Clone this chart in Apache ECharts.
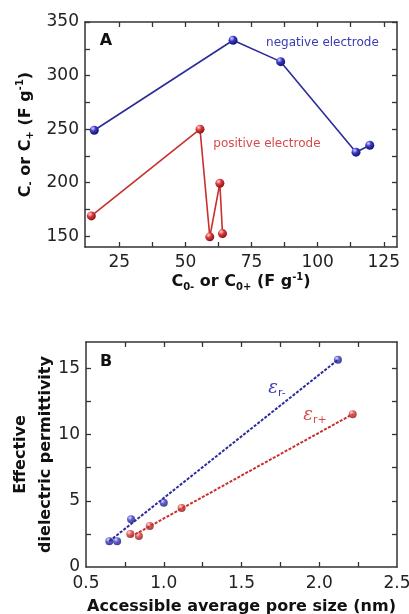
<!DOCTYPE html>
<html>
<head>
<meta charset="utf-8">
<script src="https://cdn.jsdelivr.net/npm/echarts@6/dist/echarts.min.js"></script>
<style>
  html, body { margin: 0; padding: 0; background: #fff; }
  #chart { width: 409px; height: 614px; }
</style>
</head>
<body>
<div id="chart"></div>
<script>
// panel A: capacitance vs C0
var negX = [15.5, 68, 86, 114.5, 119.7];
var negY = [249, 333, 313, 228.5, 235];
var posX = [14.4, 55.5, 59.2, 63, 64];
var posY = [169, 250, 149.5, 199.5, 152.5];
var aXTicks = [25, 37.5, 50, 62.5, 75, 87.5, 100, 112.5, 125];
var aXLabels = [25, 50, 75, 100, 125];
var aYTicks = [150, 175, 200, 225, 250, 275, 300, 325, 350];
var aYLabels = [150, 200, 250, 300, 350];

// panel B: permittivity vs pore size
var bNegX = [0.65, 0.70, 0.79, 1.0, 2.12];
var bNegY = [1.95, 1.95, 3.6, 4.85, 15.65];
var bPosX = [0.785, 0.84, 0.91, 1.115, 2.215];
var bPosY = [2.5, 2.35, 3.1, 4.45, 11.55];
var fitNegX = [0.65, 2.12];
var fitNegY = [1.95, 15.65];
var fitPosX = [0.79, 2.215];
var fitPosY = [2.3, 11.55];
var bXTicks = [0.75, 1.0, 1.25, 1.5, 1.75, 2.0, 2.25];
var bXLabels = [0.5, 1.0, 1.5, 2.0, 2.5];
var bYTicks = [2.5, 5, 7.5, 10, 12.5, 15];
var bYLabels = [0, 5, 10, 15];

var BLUE = '#2a2c9c';
var RED = '#c8302e';
var FONT = 'DejaVu Sans';

function zip(xs, ys) {
  return xs.map(function (x, i) { return [x, ys[i]]; });
}

function ball(dark, mid, light) {
  return {
    type: 'radial', x: 0.35, y: 0.3, r: 0.7,
    colorStops: [
      { offset: 0, color: light },
      { offset: 0.45, color: mid },
      { offset: 1, color: dark }
    ]
  };
}
var blueBall = ball('#15156e', '#3838c8', '#d8d8ff');
var redBall = ball('#8e1414', '#d83a3a', '#ffd8d8');

var rich = {
  b: { fontSize: 16, fontWeight: 'bold', fontFamily: FONT, color: '#111' },
  s: { fontSize: 10, fontWeight: 'bold', fontFamily: FONT, color: '#111', padding: [10, 0, 0, 0] },
  p: { fontSize: 10, fontWeight: 'bold', fontFamily: FONT, color: '#111', padding: [0, 0, 10, 0] }
};

function axis(pos, grid, min, max, ticks, labels, show, name, extra) {
  var a = {
    type: 'value', gridIndex: grid, position: pos, min: min, max: max,
    axisLine: { show: true, onZero: false, lineStyle: { color: '#333', width: 1.5 } },
    axisTick: { show: true, inside: true, length: 5, customValues: ticks,
      lineStyle: { color: '#333', width: 1.3 } },
    axisLabel: { show: show, customValues: labels, color: '#222', fontSize: 17, fontFamily: FONT,
      margin: 6 },
    splitLine: { show: false }
  };
  if (name) {
    a.name = name;
    a.nameLocation = 'middle';
  }
  if (extra) Object.assign(a, extra);
  return a;
}

var chart = echarts.init(document.getElementById('chart'), null, { renderer: 'canvas' });

var option = {
  animation: false,
  backgroundColor: '#fff',
  grid: [
    { left: 85, right: 12, top: 22, height: 225, containLabel: false, outerBoundsMode: 'none' },
    { left: 86, right: 12, top: 342, height: 225, containLabel: false, outerBoundsMode: 'none' }
  ],
  xAxis: [
    axis('bottom', 0, 12, 130, aXTicks, aXLabels, true,
      '{b|C}{s|0-}{b| or C}{s|0+}{b| (F g}{p|-1}{b|)}',
      { nameGap: 25, nameTextStyle: { rich: rich },
        axisLabel: { show: true, customValues: aXLabels, color: '#222', fontSize: 17, fontFamily: FONT, margin: 7 } }),
    axis('top', 0, 12, 130, aXTicks, aXLabels, false),
    axis('bottom', 1, 0.5, 2.5, bXTicks, bXLabels, true,
      'Accessible average pore size (nm)',
      { nameGap: 32, nameTextStyle: { fontSize: 16, fontWeight: 'bold', fontFamily: FONT, color: '#111' },
        axisLabel: { show: true, customValues: bXLabels, color: '#222', fontSize: 17, fontFamily: FONT, margin: 8,
          formatter: function (v) { return v.toFixed(1); } } }),
    axis('top', 1, 0.5, 2.5, bXTicks, bXLabels, false)
  ],
  yAxis: [
    axis('left', 0, 140, 350, aYTicks, aYLabels, true,
      '{b|C}{s|-}{b| or C}{s|+}{b| (F g}{p|-1}{b|)}',
      { nameGap: 48, nameTextStyle: { rich: rich } }),
    axis('right', 0, 140, 350, aYTicks, aYLabels, false),
    axis('left', 1, 0, 17, bYTicks, bYLabels, true,
      'Effective\ndielectric permittivity',
      { nameGap: 28, nameMoveOverlap: false,
        nameTextStyle: { fontSize: 16, fontWeight: 'bold', fontFamily: FONT, color: '#111', lineHeight: 25 } }),
    axis('right', 1, 0, 17, bYTicks, bYLabels, false)
  ],
  series: [
    { type: 'line', xAxisIndex: 0, yAxisIndex: 0, data: zip(negX, negY),
      symbol: 'circle', symbolSize: 9, showAllSymbol: true,
      lineStyle: { color: BLUE, width: 1.6 }, itemStyle: { color: blueBall } },
    { type: 'line', xAxisIndex: 0, yAxisIndex: 0, data: zip(posX, posY),
      symbol: 'circle', symbolSize: 9, showAllSymbol: true,
      lineStyle: { color: RED, width: 1.6 }, itemStyle: { color: redBall } },
    { type: 'line', xAxisIndex: 2, yAxisIndex: 2, data: zip(fitNegX, fitNegY),
      symbol: 'none', lineStyle: { color: BLUE, width: 2, type: [3, 1.5] } },
    { type: 'line', xAxisIndex: 2, yAxisIndex: 2, data: zip(fitPosX, fitPosY),
      symbol: 'none', lineStyle: { color: RED, width: 2, type: [3, 1.5] } },
    { type: 'scatter', xAxisIndex: 2, yAxisIndex: 2, data: zip(bNegX, bNegY),
      symbolSize: 8, itemStyle: { color: blueBall } },
    { type: 'scatter', xAxisIndex: 2, yAxisIndex: 2, data: zip(bPosX, bPosY),
      symbolSize: 8, itemStyle: { color: redBall } }
  ]
};
chart.setOption(option);

// annotations placed in data coordinates
var notesA = [
  { at: [19.9, 332.3], text: 'A', style: { fontSize: 16, fontWeight: 'bold', fill: '#111' } },
  { at: [101.8, 330.4], text: 'negative electrode', style: { fontSize: 12, fill: '#3a3ab4' } },
  { at: [80.8, 236.1], text: 'positive electrode', style: { fontSize: 12, fill: '#d84a4a' } }
];
var notesB = [
  { at: [0.629, 15.49], text: 'B', style: { fontSize: 16, fontWeight: 'bold', fill: '#111' } },
  { at: [1.728, 13.52], text: '{e|ε}{s|r-}', color: '#3a3ab4' },
  { at: [1.973, 11.48], text: '{e|ε}{s|r+}', color: '#d84a4a' }
];

function toGraphic(n, xi, yi) {
  var p = chart.convertToPixel({ xAxisIndex: xi, yAxisIndex: yi }, n.at);
  var style = Object.assign({ text: n.text, fontFamily: FONT, align: 'center', verticalAlign: 'middle' }, n.style || {});
  if (n.color) {
    style.rich = {
      e: { fontSize: 18, fontStyle: 'italic', fontFamily: 'DejaVu Serif', fill: n.color, color: n.color },
      s: { fontSize: 11, fontFamily: FONT, fill: n.color, color: n.color, padding: [10, 0, 0, 0] }
    };
  }
  return { type: 'text', x: p[0], y: p[1], style: style, z: 100 };
}

chart.setOption({
  graphic: notesA.map(function (n) { return toGraphic(n, 0, 0); })
    .concat(notesB.map(function (n) { return toGraphic(n, 2, 2); }))
});
</script>
</body>
</html>
